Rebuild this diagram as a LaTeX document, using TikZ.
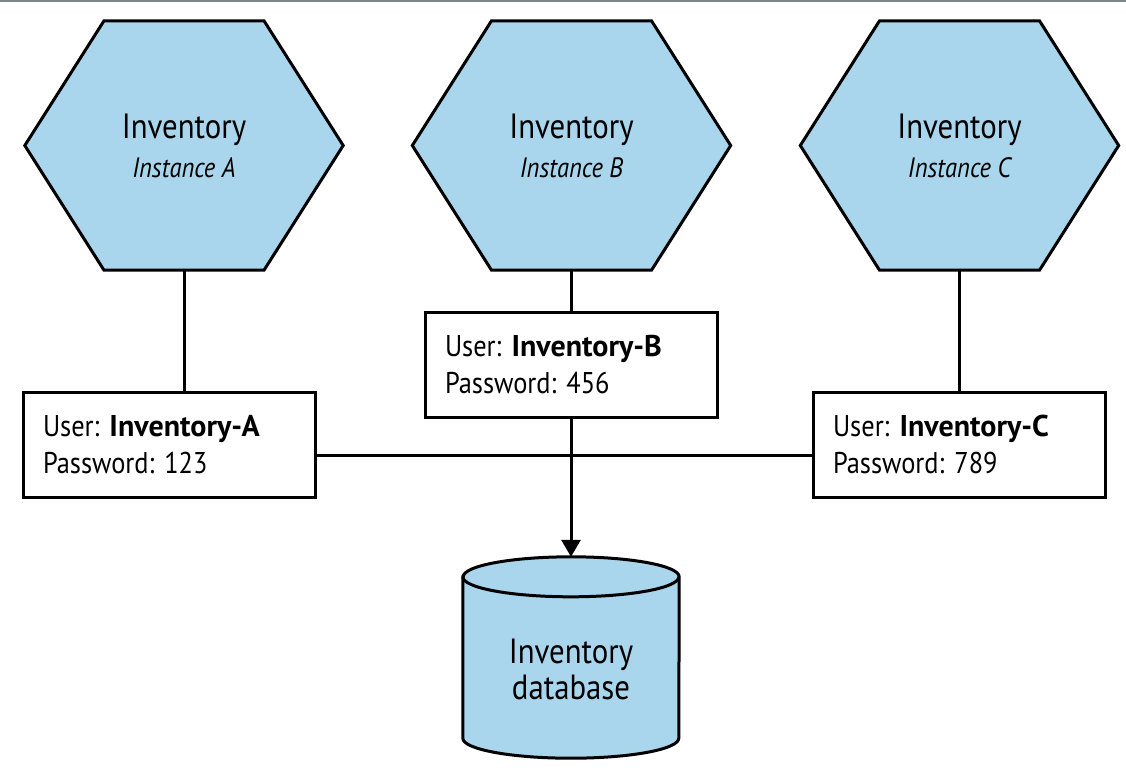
\documentclass[tikz,border=0pt]{standalone}
\usepackage{fontspec}
\setmainfont[FakeStretch=0.88, BoldFeatures={FakeStretch=1.0}]{PT Sans}
\usetikzlibrary{arrows.meta,backgrounds}
\definecolor{hexblue}{RGB}{169,214,236}
\definecolor{topgray}{RGB}{125,133,141}
\begin{document}
\frenchspacing
\begin{tikzpicture}[x=1pt,y=-1pt,
  hexnode/.style={minimum width=318pt, minimum height=249pt, inner sep=0pt, align=center,
    font=\fontsize{35}{40}\selectfont},
  shapeline/.style={draw=black, line width=3pt, fill=hexblue, line join=miter},
  credbox/.style={draw=black, line width=3pt, fill=white, minimum height=105pt,
    inner xsep=20pt, inner ysep=0pt, text width=252pt, align=left,
    font=\fontsize{30}{37}\selectfont},
  conn/.style={draw=black, line width=3pt},
  dbnode/.style={minimum width=216pt, minimum height=201pt, inner sep=0pt},
  dblabel/.style={align=center, inner sep=0pt, font=\fontsize{35}{36}\selectfont}
]
\useasboundingbox (0,0) rectangle (1126,774);

% hexagons
\node[hexnode] (hA) at (184,145.5) {Inventory\\[-1pt]{\fontsize{28}{32}\selectfont\itshape Instance A}};
\node[hexnode] (hB) at (571.5,145.5) {Inventory\\[-1pt]{\fontsize{28}{32}\selectfont\itshape Instance B}};
\node[hexnode] (hC) at (959.5,145.5) {Inventory\\[-1pt]{\fontsize{28}{32}\selectfont\itshape Instance C}};

% credential boxes
\node[credbox] (bA) at (169,444.5) {User: \textbf{Inventory-A}\\Password: 123};
\node[credbox] (bB) at (571,364.5) {User: \textbf{Inventory-B}\\Password: 456};
\node[credbox] (bC) at (959,444.5) {User: \textbf{Inventory-C}\\Password: 789};

% database
\node[dbnode] (db) at (571,657.5) {};
\node[dblabel] (dbl) at (571,669.5) {Inventory\\database};

\begin{scope}[on background layer]
  \fill[white] (0,0) rectangle (1126,774);
  \draw[topgray, line width=2.5pt] (0,1) -- (1126,1);
  \foreach \h in {hA,hB,hC}
    \draw[shapeline] ([xshift=-80pt]\h.north) -- ([xshift=80pt]\h.north) -- (\h.east)
      -- ([xshift=80pt]\h.south) -- ([xshift=-80pt]\h.south) -- (\h.west) -- cycle;
  \draw[shapeline] ([yshift=-20pt]db.north west) -- ([yshift=20pt]db.south west)
    arc[start angle=180, end angle=360, x radius=108pt, y radius=20pt]
    -- ([yshift=-20pt]db.north east)
    arc[start angle=0, end angle=180, x radius=108pt, y radius=20pt] -- cycle;
  \draw[line width=3pt] ([yshift=-20pt]db.north west)
    arc[start angle=180, end angle=360, x radius=108pt, y radius=20pt];
  % connectors
  \draw[conn] (hA.south) -- (hA.south |- bA.north);
  \draw[conn] (hB.south) -- (hB.south |- bB.north);
  \draw[conn] (hC.south) -- (hC.south |- bC.north);
  \draw[conn] ([yshift=-10.5pt]bA.east) -- ([yshift=-10.5pt]bC.west);
  \draw[conn, -{Triangle[length=17pt,width=19pt]}] (bB.south) -- (db.north);
\end{scope}
\end{tikzpicture}
\end{document}
